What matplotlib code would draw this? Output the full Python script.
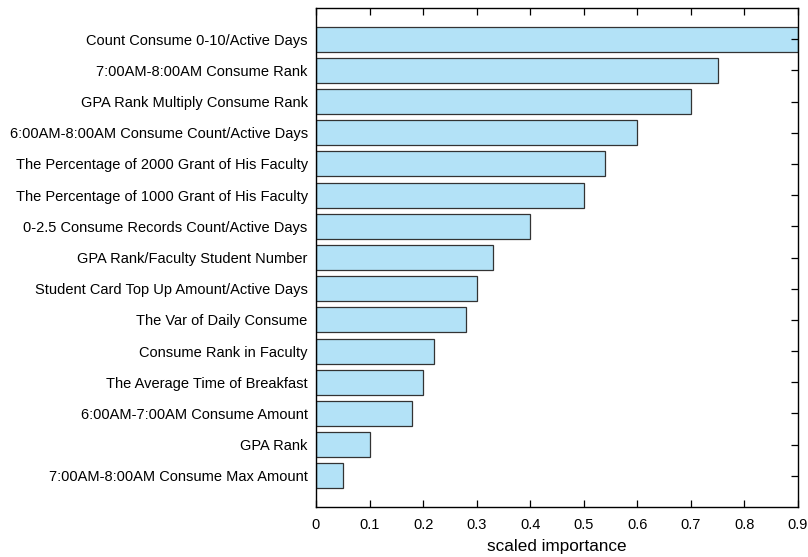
import matplotlib

matplotlib.use("Agg")
import matplotlib.pyplot as plt

features = [
    "Count Consume 0-10/Active Days",
    "7:00AM-8:00AM Consume Rank",
    "GPA Rank Multiply Consume Rank",
    "6:00AM-8:00AM Consume Count/Active Days",
    "The Percentage of 2000 Grant of His Faculty",
    "The Percentage of 1000 Grant of His Faculty",
    "0-2.5 Consume Records Count/Active Days",
    "GPA Rank/Faculty Student Number",
    "Student Card Top Up Amount/Active Days",
    "The Var of Daily Consume",
    "Consume Rank in Faculty",
    "The Average Time of Breakfast",
    "6:00AM-7:00AM Consume Amount",
    "GPA Rank",
    "7:00AM-8:00AM Consume Max Amount",
]
importance = [0.9, 0.75, 0.7, 0.6, 0.54, 0.5, 0.4, 0.33, 0.3, 0.28, 0.22, 0.2, 0.18, 0.1, 0.05]
x_ticks = [0, 0.1, 0.2, 0.3, 0.4, 0.5, 0.6, 0.7, 0.8, 0.9]

plt.rcParams["font.family"] = ["Liberation Sans", "DejaVu Sans"]

fig = plt.figure(figsize=(8.08, 5.57), dpi=100)
ax = fig.add_axes([316 / 808, 1 - 507 / 557, (798 - 316) / 808, (507 - 8) / 557])

positions = list(range(len(features)))
ax.barh(positions, importance, height=0.8, color="#b3e2f7", edgecolor="#333333", linewidth=0.9)

ax.set_ylim(len(features), -1)
ax.set_xlim(0, 0.9)
ax.set_yticks(positions)
ax.set_yticklabels(features, fontsize=10.5)
ax.set_xticks(x_ticks)
ax.set_xticklabels(["0" if t == 0 else f"{t:g}" for t in x_ticks], fontsize=10.5)
ax.set_xlabel("scaled importance", fontsize=12.3, labelpad=5)

ax.tick_params(axis="x", direction="in", top=True, bottom=True, length=5, width=0.9, pad=8)
ax.tick_params(axis="y", direction="in", left=False, right=True, length=5, width=0.9, pad=6)
for spine in ax.spines.values():
    spine.set_linewidth(1.0)

fig.savefig("out.png", dpi=100)
